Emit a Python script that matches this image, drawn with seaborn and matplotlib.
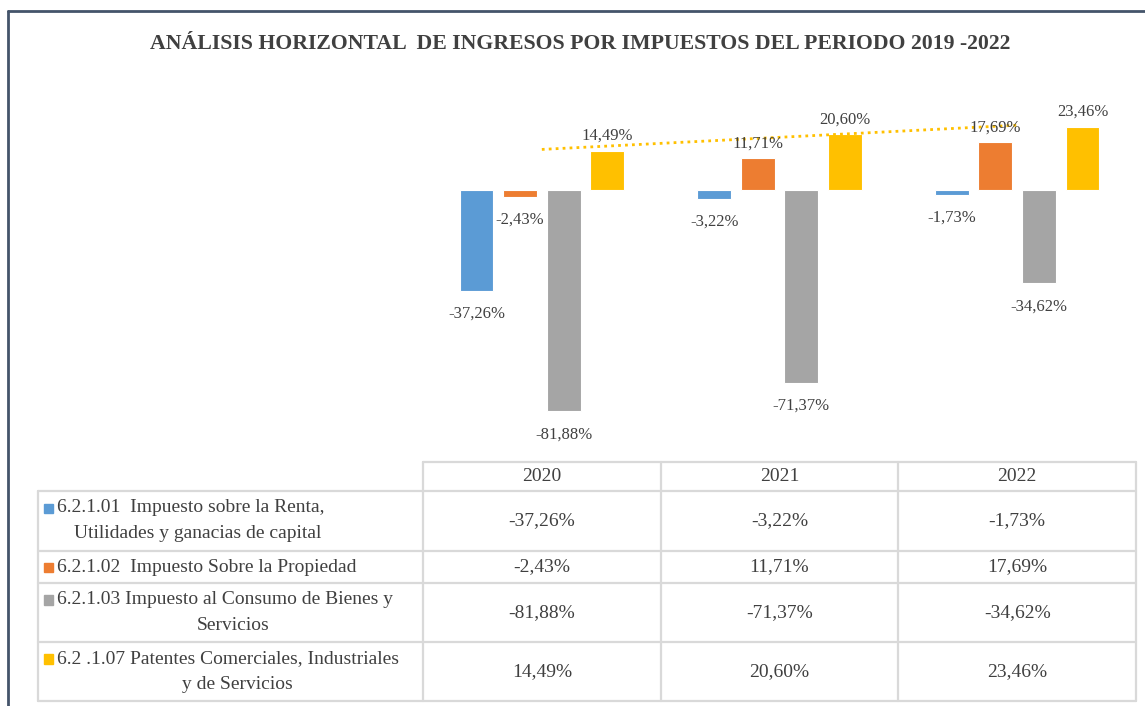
import numpy as np
import pandas as pd
import matplotlib
matplotlib.use("Agg")
import matplotlib.pyplot as plt
import seaborn as sns
from matplotlib.patches import Rectangle
from matplotlib.lines import Line2D

# datos del gráfico
years = ["2020", "2021", "2022"]
series = [
    "6.2.1.01  Impuesto sobre la Renta,\nUtilidades y ganacias de capital",
    "6.2.1.02  Impuesto Sobre la Propiedad",
    "6.2.1.03 Impuesto al Consumo de Bienes y\nServicios",
    "6.2 .1.07 Patentes Comerciales, Industriales\ny de Servicios",
]
renta = [-37.26, -3.22, -1.73]
propiedad = [-2.43, 11.71, 17.69]
consumo = [-81.88, -71.37, -34.62]
patentes = [14.49, 20.60, 23.46]
colors = ["#5B9BD5", "#ED7D31", "#A5A5A5", "#FFC000"]
title = "ANÁLISIS HORIZONTAL  DE INGRESOS POR IMPUESTOS DEL PERIODO 2019 -2022"

values = [renta, propiedad, consumo, patentes]
df = pd.DataFrame({
    "year": np.tile(years, 4),
    "serie": np.repeat(series, 3),
    "valor": np.concatenate(values),
})

sns.set_style("white")
plt.rcParams["font.family"] = ["Liberation Serif", "DejaVu Serif"]
txt = "#404040"

W, H = 1145, 706
fig = plt.figure(figsize=(W / 100, H / 100), dpi=100)

def fx(px):
    return px / W

def fy(py):
    return 1 - py / H

# marco (solo superior e izquierdo visibles)
fig.add_artist(Line2D([fx(8), 1], [fy(11), fy(11)], color="#44546A", lw=2))
fig.add_artist(Line2D([fx(8), fx(8)], [fy(11), 0], color="#44546A", lw=2))

fig.text(fx(580), fy(44), title, ha="center", va="center",
         fontsize=15.7, fontweight="bold", color=txt)

x0, x1 = 423, 1136
ax = fig.add_axes([fx(x0), fy(460), fx(x1) - fx(x0), fy(109) - fy(460)])
sns.barplot(data=df, x="year", y="valor", hue="serie", palette=colors,
            saturation=1, width=0.733, gap=0.22, ax=ax, legend=False,
            edgecolor="white", linewidth=0.8)
ax.set_xlim(-0.5, 2.5)
ax.set_ylim(-100, 30)
ax.axis("off")

# etiquetas de datos
for cont, vals in zip(ax.containers, values):
    for bar, v in zip(cont, vals):
        cx = bar.get_x() + bar.get_width() / 2
        lab = f"{v:.2f}%".replace(".", ",")
        if v >= 0:
            ax.annotate(lab, (cx, v), xytext=(0, 5), textcoords="offset points",
                        ha="center", va="bottom", fontsize=12, color=txt)
        else:
            ax.annotate(lab, (cx, v), xytext=(0, -11), textcoords="offset points",
                        ha="center", va="top", fontsize=12, color=txt)

# línea de tendencia lineal de la serie amarilla
xs = np.arange(len(years))
coef = np.polyfit(xs, patentes, 1)
ax.plot(xs, np.polyval(coef, xs), color="#FFC000", lw=2, ls=(0, (1, 1.5)))

# tabla de datos
grid = "#D9D9D9"
tab_left = 38
row_y = [462, 491, 551, 583, 642, 701]
col_x = [x0 + i * (x1 - x0) / 3 for i in range(4)]
second_line_cx = [198, 232, 233, 237]

def hline(y, xa, xb):
    fig.add_artist(Line2D([fx(xa), fx(xb)], [fy(y), fy(y)], color=grid, lw=1.6))

def vline(x, ya, yb):
    fig.add_artist(Line2D([fx(x), fx(x)], [fy(ya), fy(yb)], color=grid, lw=1.6))

hline(row_y[0], col_x[0], col_x[3])
for y in row_y[1:]:
    hline(y, tab_left, col_x[3])
for x in col_x:
    vline(x, row_y[0], row_y[-1])
vline(tab_left, row_y[1], row_y[-1])

for i, yr in enumerate(years):
    cx = (col_x[i] + col_x[i + 1]) / 2
    fig.text(fx(cx), fy((row_y[0] + row_y[1]) / 2), yr, ha="center", va="center",
             fontsize=14, color=txt)

for r, (name, vals, col) in enumerate(zip(series, values, colors)):
    ya, yb = row_y[r + 1], row_y[r + 2]
    ym = (ya + yb) / 2
    lines = name.split("\n")
    n = len(lines)
    lh = 26
    for k, line in enumerate(lines):
        yy = ym + (k - (n - 1) / 2) * lh
        if k == 0:
            fig.text(fx(57), fy(yy), line, ha="left", va="center",
                     fontsize=14, color=txt)
            fig.add_artist(Rectangle((fx(44), fy(yy + 5)), fx(9), fy(0) - fy(9.5),
                                     color=col, transform=fig.transFigure))
        else:
            fig.text(fx(second_line_cx[r]), fy(yy), line, ha="center", va="center",
                     fontsize=14, color=txt)
    for i, v in enumerate(vals):
        cx = (col_x[i] + col_x[i + 1]) / 2
        fig.text(fx(cx), fy(ym), f"{v:.2f}%".replace(".", ","), ha="center",
                 va="center", fontsize=14, color=txt)

fig.savefig("out.png", dpi=100)
